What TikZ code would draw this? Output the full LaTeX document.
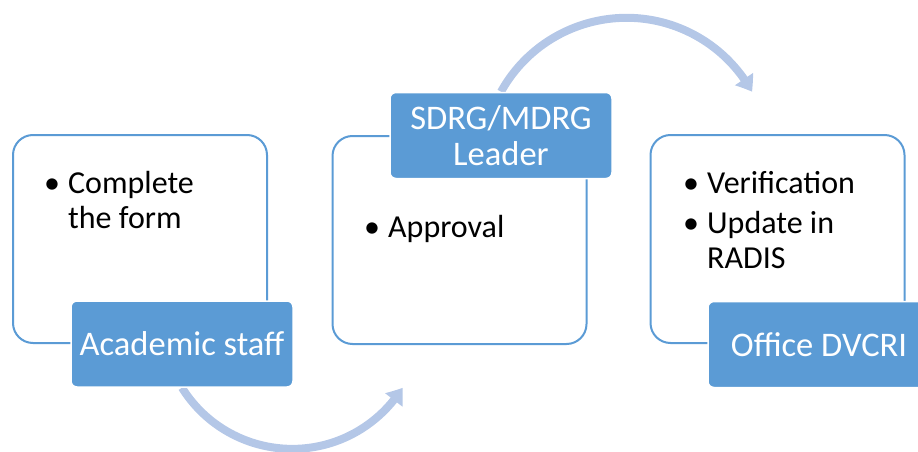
\documentclass[tikz,border=0pt]{standalone}
\usepackage{fontspec}
\setmainfont{Carlito}
\usetikzlibrary{arrows.meta, positioning, backgrounds, bending}
\definecolor{officeblue}{HTML}{5B9BD5}
\definecolor{arrowblue}{HTML}{B4C7E7}
\tikzset{
  x=1pt, y=-1pt,
  stepbox/.style={draw=officeblue, line width=2pt, rounded corners=20pt, minimum width=254pt, minimum height=208pt},
  tag/.style={draw=white, line width=1.5pt, fill=officeblue, rounded corners=6pt, text=white, minimum width=222pt, minimum height=86pt, align=center, inner sep=0pt, font=\fontsize{34.5}{36}\selectfont},
  items/.style={anchor=base west, inner sep=0pt, font=\fontsize{32}{35}\selectfont},
  flow/.style={arrowblue, line width=8pt, -{Triangle[width=21pt,length=15pt,bend]}}
}
\newcommand{\bitem}[1]{\makebox[24pt][l]{\textbullet}\begin{tabular}[t]{@{}l@{}}#1\end{tabular}}

\begin{document}
\begin{tikzpicture}
  \useasboundingbox (0,0) rectangle (918,452);

  % the three steps
  \node[stepbox] (formbox) at (140,239) {};
  \node[stepbox] (approvebox) at (459.5,240) {};
  \node[stepbox] (verifybox) at (777.5,239) {};

  % who does it
  \node[tag] (staff) at (182,344) {Academic staff};
  \node[tag] (leader) at (501,135.5) {SDRG/MDRG\\Leader};
  \node[tag] (office) at (819,344.5) {Office DVCRI};

  % what is done
  \node[items] (formtext) at (44,193) {\bitem{Complete\\the form}};
  \node[items] (approvetext) at (364,237) {\bitem{Approval}};
  \node[items] (verifytext) at (683,193) {\bitem{Verification}};
  \node[items] (updatetext) at (683,233) {\bitem{Update in\\RADIS}};

  \begin{scope}[on background layer]
    \draw[flow] (staff.south) arc[start angle=148, end angle=32, radius=130];
    \draw[flow] (leader.north) arc[start angle=-151, end angle=-29, radius=143.5];
  \end{scope}

\end{tikzpicture}
\end{document}
